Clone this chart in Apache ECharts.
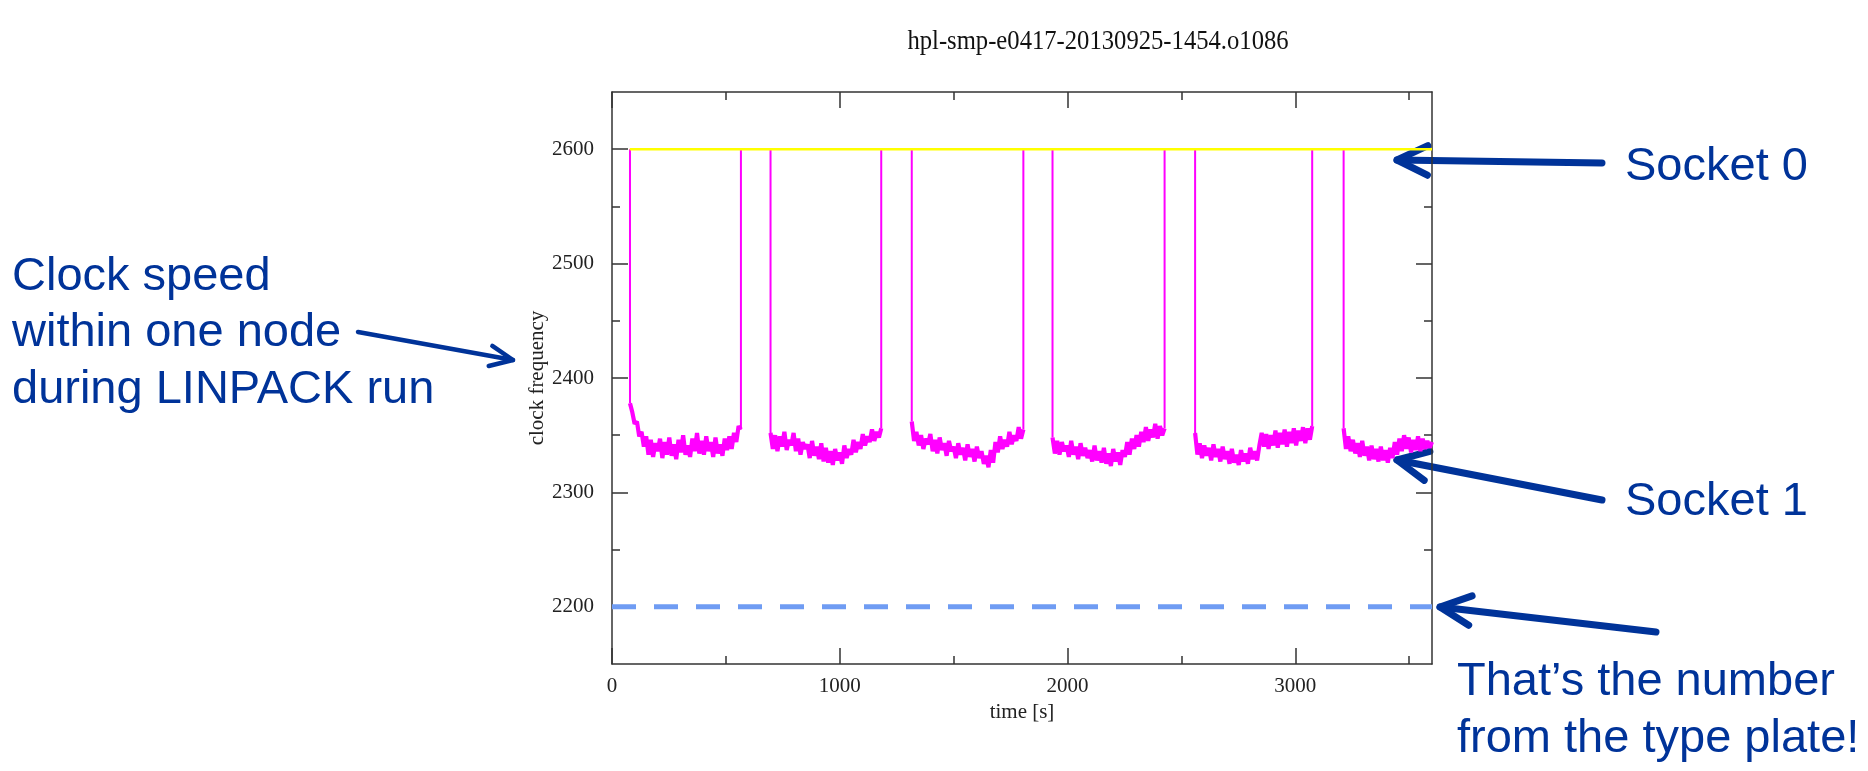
<!DOCTYPE html>
<html>

<head>
  <meta charset="utf-8">
  <title>clock frequency</title>
  <script src="https://cdn.jsdelivr.net/npm/echarts@6/dist/echarts.min.js"></script>
  <style>
    html, body { margin: 0; padding: 0; background: #fff; }
    #main { width: 1868px; height: 771px; }
  </style>
</head>

<body>
  <div id="main"></div>
  <script>
    // axis ticks (time in s, clock in MHz)
    var xMajor = [0, 1000, 2000, 3000];
    var xMinor = [500, 1500, 2500, 3500];
    var yMajor = [2200, 2300, 2400, 2500, 2600];
    var yMinor = [2250, 2350, 2450, 2550];

    // socket 0 runs at full clock the whole time
    var socket0 = [[78, 2600], [3600, 2600]];
    // nominal frequency on the type plate
    var typePlate = [[0, 2200], [3600, 2200]];

    // socket 1: start / end of each LINPACK phase, readings in between
    var phaseStart = [79, 696, 1316, 1934, 2560, 3212];
    var phaseEnd = [566, 1182, 1806, 2426, 3074, 3600];
    var phase1 = [2378, 2370, 2360, 2362, 2349, 2353, 2340, 2349, 2333, 2346, 2331, 2343, 2336, 2347, 2330, 2344, 2333,
      2348, 2332, 2342, 2329, 2346, 2335, 2350, 2333, 2341, 2331, 2347, 2336, 2352, 2334, 2345, 2333, 2349, 2336, 2344,
      2331, 2348, 2334, 2342, 2332, 2347, 2337, 2349, 2338, 2352, 2344, 2358, 2355];
    var phase2 = [2352, 2338, 2350, 2336, 2349, 2340, 2353, 2337, 2346, 2341, 2352, 2336, 2347, 2333, 2344, 2338, 2342,
      2330, 2345, 2332, 2340, 2329, 2343, 2327, 2339, 2326, 2336, 2324, 2338, 2328, 2335, 2325, 2341, 2330, 2338, 2333,
      2346, 2335, 2344, 2338, 2351, 2341, 2349, 2344, 2355, 2345, 2353, 2348, 2356];
    var phase3 = [2362, 2345, 2353, 2341, 2350, 2338, 2347, 2342, 2351, 2336, 2346, 2334, 2348, 2337, 2343, 2332, 2345,
      2336, 2340, 2330, 2343, 2333, 2339, 2328, 2342, 2331, 2338, 2327, 2340, 2330, 2336, 2325, 2332, 2322, 2337, 2326,
      2344, 2335, 2349, 2338, 2346, 2340, 2353, 2342, 2350, 2345, 2357, 2347, 2355];
    var phase4 = [2348, 2334, 2345, 2333, 2344, 2336, 2341, 2331, 2345, 2333, 2340, 2329, 2343, 2332, 2339, 2330, 2337,
      2327, 2341, 2328, 2336, 2326, 2339, 2325, 2334, 2323, 2338, 2327, 2335, 2324, 2337, 2331, 2344, 2333, 2347, 2338,
      2350, 2340, 2353, 2344, 2357, 2345, 2355, 2348, 2360, 2347, 2358, 2350, 2356];
    var phase5 = [2352, 2333, 2343, 2330, 2341, 2332, 2339, 2328, 2342, 2331, 2338, 2327, 2340, 2329, 2336, 2325, 2338,
      2326, 2333, 2324, 2337, 2327, 2334, 2325, 2339, 2329, 2336, 2328, 2341, 2352, 2340, 2351, 2338, 2350, 2341, 2354,
      2339, 2352, 2342, 2355, 2340, 2353, 2343, 2356, 2341, 2354, 2345, 2357, 2343, 2356, 2346, 2358];
    var phase6 = [2356, 2338, 2349, 2336, 2346, 2334, 2343, 2331, 2345, 2332, 2340, 2328, 2341, 2329, 2338, 2327, 2340,
      2328, 2337, 2326, 2339, 2330, 2344, 2333, 2347, 2336, 2350, 2338, 2348, 2335, 2346, 2337, 2349, 2336, 2347, 2338,
      2345, 2339, 2344];
    var phases = [phase1, phase2, phase3, phase4, phase5, phase6];

    // vertical jumps (drawn thin) and the noisy low phases (drawn thick)
    var socket1Jumps = [];
    var socket1Low = [];
    phases.forEach(function (vals, k) {
      var t0 = phaseStart[k], t1 = phaseEnd[k];
      var step = (t1 - t0) / (vals.length - 1);
      socket1Jumps.push([t0, 2600], [t0, vals[0]], null);
      vals.forEach(function (v, i) { socket1Low.push([t0 + i * step, v]); });
      socket1Low.push(null);
      if (t1 < 3600) socket1Jumps.push([t1, vals[vals.length - 1]], [t1, 2600], null);
    });

    var axisColor = '#333';
    var serif = '"Liberation Serif", "DejaVu Serif", serif';
    var sans = '"Liberation Sans", Arial, sans-serif';
    var blue = '#003399';

    function makeAxis(position, ticks, len, withLine, withLabels) {
      var isX = position === 'bottom' || position === 'top';
      return {
        type: 'value',
        position: position,
        min: isX ? 0 : 2150,
        max: isX ? 3600 : 2650,
        splitLine: { show: false },
        axisLine: { show: withLine, onZero: false, lineStyle: { color: axisColor, width: 1.5 } },
        axisTick: { show: true, inside: true, length: len, customValues: ticks, lineStyle: { color: axisColor, width: 1.5 } },
        axisLabel: {
          show: withLabels, customValues: ticks, margin: isX ? 12 : 18,
          formatter: function (v) { return String(v); },
          fontFamily: serif, fontSize: 21, color: '#222'
        }
      };
    }

    var xAxes = [
      makeAxis('bottom', xMajor, 16, true, true),
      makeAxis('bottom', xMinor, 8, false, false),
      makeAxis('top', xMajor, 16, true, false),
      makeAxis('top', xMinor, 8, false, false)
    ];
    xAxes[0].name = 'time [s]';
    xAxes[0].nameLocation = 'middle';
    xAxes[0].nameGap = 30;
    xAxes[0].nameTextStyle = { fontFamily: serif, fontSize: 21, color: '#222' };

    var yAxes = [
      makeAxis('left', yMajor, 16, true, true),
      makeAxis('left', yMinor, 8, false, false),
      makeAxis('right', yMajor, 16, true, false),
      makeAxis('right', yMinor, 8, false, false)
    ];
    yAxes[0].name = 'clock frequency';
    yAxes[0].nameLocation = 'middle';
    yAxes[0].nameGap = 60;
    yAxes[0].nameTextStyle = { fontFamily: serif, fontSize: 21, color: '#222' };

    // annotation arrows with an open chevron head
    function arrow(tail, tip, width, headLen, headAngle) {
      var a = Math.atan2(tail[1] - tip[1], tail[0] - tip[0]);
      var h1 = [tip[0] + headLen * Math.cos(a + headAngle), tip[1] + headLen * Math.sin(a + headAngle)];
      var h2 = [tip[0] + headLen * Math.cos(a - headAngle), tip[1] + headLen * Math.sin(a - headAngle)];
      var st = { stroke: blue, lineWidth: width, fill: null, lineCap: 'round', lineJoin: 'round' };
      return [
        { type: 'polyline', shape: { points: [tail, tip] }, style: st },
        { type: 'polyline', shape: { points: [h1, tip, h2] }, style: st }
      ];
    }

    function note(text, x, baseline) {
      return {
        type: 'text', x: x, y: baseline - 15,
        style: { text: text, font: '47px ' + sans, fill: blue, align: 'left', verticalAlign: 'middle' }
      };
    }

    var graphics = [
      {
        type: 'text', x: 1098, y: 42, scaleX: 0.88,
        style: { text: 'hpl-smp-e0417-20130925-1454.o1086', font: '28px ' + serif, fill: '#111', align: 'center', verticalAlign: 'middle' }
      },
      note('Clock speed', 12, 292),
      note('within one node', 12, 348),
      note('during LINPACK run', 12, 405),
      note('Socket 0', 1625, 182),
      note('Socket 1', 1625, 517),
      note('That\u2019s the number', 1457, 697),
      note('from the type plate!', 1457, 754)
    ]
      .concat(arrow([358, 332], [513, 360], 4.5, 25, 0.42))
      .concat(arrow([1602, 163], [1397, 160], 7, 34, 0.45))
      .concat(arrow([1602, 500], [1397, 460], 7, 34, 0.45))
      .concat(arrow([1656, 632], [1440, 607], 7, 34, 0.45));

    var myChart = echarts.init(document.getElementById('main'));
    var option = {
      animation: false,
      backgroundColor: '#fff',
      grid: { left: 612, top: 92, width: 820, height: 572, containLabel: false },
      xAxis: xAxes,
      yAxis: yAxes,
      series: [
        {
          name: 'Socket 1', type: 'line', data: socket1Jumps, showSymbol: false, connectNulls: false,
          lineStyle: { color: '#ff00ff', width: 2 }, z: 2
        },
        {
          name: 'Socket 1 load', type: 'line', data: socket1Low, showSymbol: false, connectNulls: false,
          lineStyle: { color: '#ff00ff', width: 4.2 }, z: 2
        },
        {
          name: 'Socket 0', type: 'line', data: socket0, showSymbol: false,
          lineStyle: { color: '#ffff00', width: 2.5 }, z: 3
        },
        {
          name: 'type plate', type: 'line', data: typePlate, showSymbol: false,
          lineStyle: { color: '#6f9cf3', width: 5, type: [24, 18] }, z: 3
        }
      ],
      graphic: graphics
    };
    myChart.setOption(option);
  </script>
</body>

</html>
